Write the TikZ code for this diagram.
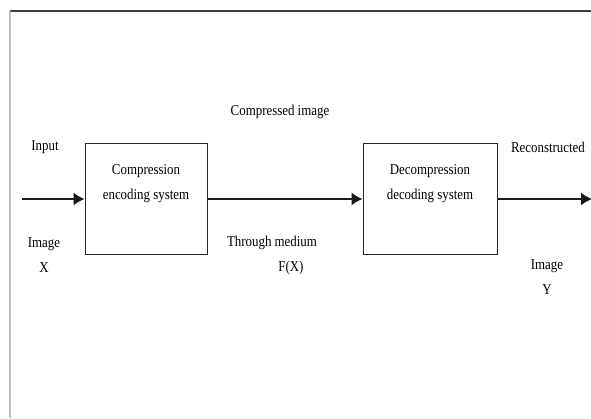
\documentclass[tikz,border=0pt]{standalone}
\usepackage{fontspec}
\setmainfont{Liberation Serif}[FakeStretch=0.86]
\usetikzlibrary{arrows.meta}
\begin{document}
\begin{tikzpicture}[x=1pt,y=-1pt,
  blk/.style={draw=black!85,line width=1pt,minimum height=111pt,inner sep=0pt},
  lbl/.style={font=\fontsize{15}{25}\selectfont,align=center,inner sep=0pt,text=black},
  flow/.style={line width=1.5pt,draw=black!90,-{Latex[length=11pt,width=13pt]}}]
\useasboundingbox (0,0) rectangle (591,418);
\fill[white] (0,0) rectangle (591,418);
\draw[line width=1.5pt,black!75] (10,11) -- (591,11);
\draw[line width=2pt,black!25] (10,11) -- (10,418);
\node[blk,minimum width=122pt] (enc) at (146,198.5) {};
\node[blk,minimum width=134pt] (dec) at (430,198.5) {};
\node[lbl] at (146,184) {Compression\\encoding system};
\node[lbl] at (430,184) {Decompression\\decoding system};
\coordinate (in) at (22,199);
\coordinate (out) at (592,199);
\draw[flow] (in) -- (enc.west |- in);
\draw[flow] (enc.east |- in) -- (dec.west |- in);
\draw[flow] (dec.east |- in) -- (out);
\node[lbl] (ci) at (280,112) {Compressed image};
\node[lbl] (inp) at (45,147) {Input};
\node[lbl] (imx) at (44,255) {Image\\X};
\node[lbl] (tm) at (272,255) {Through medium\\\hspace*{38pt}F(X)};
\node[lbl] (rec) at (548,147) {Reconstructed};
\node[lbl] (imy) at (547,277) {Image\\Y};
\end{tikzpicture}
\end{document}
